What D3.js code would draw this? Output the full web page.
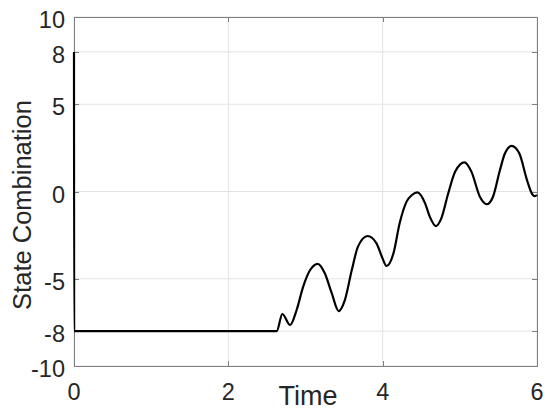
<!DOCTYPE html>
<html>
<head>
<meta charset="utf-8">
<script src="https://cdn.jsdelivr.net/npm/d3@7"></script>
<style>
  body { margin: 0; background: #fff; }
  text { font-family: "Liberation Sans", Arial, sans-serif; fill: #262626; }
</style>
</head>
<body>
<div id="chart"></div>
<script>
// data
var times = [0, 0.002, 0.05, 2.55, 2.627, 2.70, 2.80, 2.885, 2.97, 3.06, 3.16, 3.25, 3.34, 3.43,
             3.51, 3.60, 3.68, 3.805, 3.92, 3.99, 4.05, 4.14, 4.22, 4.31, 4.38, 4.45, 4.55, 4.61, 4.69,
             4.76, 4.85, 4.94, 5.06, 5.15, 5.26, 5.35, 5.43, 5.52, 5.585, 5.67, 5.77, 5.87, 5.94, 5.97, 6.0];
var values = [8, -8, -8, -8, -8, -7.02, -7.65, -6.79, -5.45, -4.50, -4.15, -4.69, -5.83, -6.85,
              -6.22, -4.50, -3.16, -2.55, -2.97, -3.74, -4.27, -3.54, -1.82, -0.58, -0.20, -0.05, -0.68, -1.44, -1.98,
              -1.54, -0.10, 1.14, 1.67, 1.14, -0.30, -0.73, -0.30, 1.23, 2.19, 2.61, 2.19, 0.66, -0.16, -0.27, -0.20];
var xTicks = [0, 2, 4, 6];
var yTicks = [-10, -8, -5, 0, 5, 8, 10];

var data = times.map(function (t, i) { return { t: t, v: values[i] }; });

// set the dimensions and margins of the graph
var margin = { top: 17, right: 13, bottom: 48, left: 74 },
    width = 550 - margin.left - margin.right,
    height = 414 - margin.top - margin.bottom;

var svg = d3.select("#chart")
    .append("svg")
    .attr("width", 550)
    .attr("height", 414)
    .append("g")
    .attr("transform", "translate(" + margin.left + "," + margin.top + ")");

var x = d3.scaleLinear().domain([0, 6]).range([0, width]);
var y = d3.scaleLinear().domain([-10, 10]).range([height, 0]);

// grid
svg.append("g")
    .selectAll("line")
    .data(xTicks)
    .enter().append("line")
    .attr("x1", function (d) { return x(d); })
    .attr("x2", function (d) { return x(d); })
    .attr("y1", 0)
    .attr("y2", height)
    .attr("stroke", "#e3e3e3")
    .attr("stroke-width", 1);
svg.append("g")
    .selectAll("line")
    .data(yTicks)
    .enter().append("line")
    .attr("x1", 0)
    .attr("x2", width)
    .attr("y1", function (d) { return y(d); })
    .attr("y2", function (d) { return y(d); })
    .attr("stroke", "#e3e3e3")
    .attr("stroke-width", 1);

// axes (inward ticks, box)
var axisColor = "#808080";
var xb = svg.append("g")
    .attr("transform", "translate(0," + height + ")")
    .call(d3.axisTop(x).tickValues(xTicks).tickSize(5).tickFormat(""));
var xt = svg.append("g")
    .call(d3.axisBottom(x).tickValues(xTicks).tickSize(5).tickFormat(""));
var yl = svg.append("g")
    .call(d3.axisRight(y).tickValues(yTicks).tickSize(5).tickFormat(""));
var yr = svg.append("g")
    .attr("transform", "translate(" + width + ",0)")
    .call(d3.axisLeft(y).tickValues(yTicks).tickSize(5).tickFormat(""));
[xb, xt, yl, yr].forEach(function (g) {
    g.selectAll("path, line").attr("stroke", axisColor).attr("shape-rendering", "crispEdges");
});

// tick labels
svg.append("g")
    .selectAll("text")
    .data(xTicks)
    .enter().append("text")
    .attr("x", function (d) { return x(d); })
    .attr("y", height + 34)
    .attr("text-anchor", "middle")
    .style("font-size", "23.5px")
    .text(function (d) { return d; });
svg.append("g")
    .selectAll("text")
    .data(yTicks)
    .enter().append("text")
    .attr("x", -9)
    .attr("y", function (d) { return y(d) + 11; })
    .attr("text-anchor", "end")
    .style("font-size", "23.5px")
    .text(function (d) { return d; });

// axis labels
svg.append("text")
    .attr("x", 308 - margin.left)
    .attr("y", 405 - margin.top)
    .attr("text-anchor", "middle")
    .style("font-size", "27px")
    .text("Time");
svg.append("text")
    .attr("transform", "rotate(-90)")
    .attr("x", -(205 - margin.top))
    .attr("y", 31 - margin.left)
    .attr("text-anchor", "middle")
    .style("font-size", "25.5px")
    .text("State Combination");

// the line
var line = d3.line()
    .curve(d3.curveMonotoneX)
    .x(function (d) { return x(d.t); })
    .y(function (d) { return y(d.v); });
svg.append("path")
    .datum(data)
    .attr("d", line)
    .attr("fill", "none")
    .attr("stroke", "#000")
    .attr("stroke-width", 2.2)
    .attr("stroke-linejoin", "round");
</script>
</body>
</html>
